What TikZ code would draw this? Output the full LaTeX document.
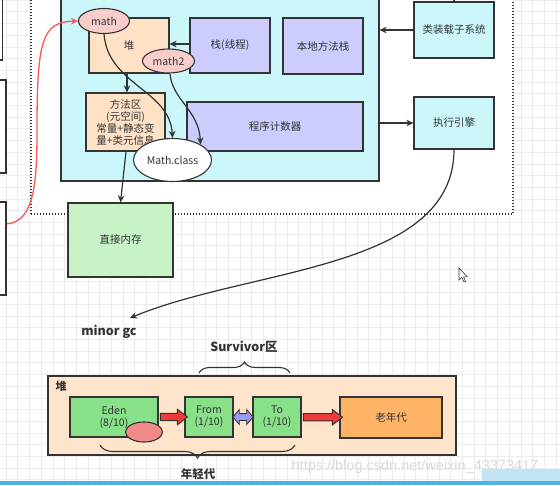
\documentclass[tikz,border=0pt]{standalone}
\usepackage{fontspec}
\setmainfont{Noto Sans CJK SC}
\newfontfamily\wmfont{Liberation Sans}
\usetikzlibrary{shapes.geometric,shapes.arrows,decorations.pathreplacing,arrows.meta,calc}
\definecolor{linec}{HTML}{333333}
\definecolor{txt}{HTML}{333333}
\definecolor{gridc}{HTML}{EBEBEB}
\definecolor{cyanfill}{HTML}{CCF7FA}
\definecolor{peach}{HTML}{FFE2C6}
\definecolor{lav}{HTML}{CCCCFF}
\definecolor{pinkf}{HTML}{F8CDCC}
\definecolor{lgreen}{HTML}{C6F2C6}
\definecolor{mgreen}{HTML}{88E088}
\definecolor{orangef}{HTML}{FFB366}
\definecolor{heapf}{HTML}{FFE4CC}
\definecolor{redell}{HTML}{F28A8A}
\definecolor{redarr}{HTML}{F03A3A}
\definecolor{bluearr}{HTML}{9A9AF5}
\definecolor{redline}{HTML}{FF5555}
\definecolor{barblue}{HTML}{4FB3E0}
\tikzset{
  box/.style={draw=linec, line width=1.2pt, inner sep=0pt, align=center, text=txt},
  ell/.style={ellipse, draw=linec, line width=1.1pt, inner sep=0pt, text=txt},
  conn/.style={draw=linec, line width=1.2pt, -{Stealth[length=7pt,width=6.5pt]}},
  fatred/.style={single arrow, draw=linec, line width=1pt, fill=redarr, inner sep=3.2pt,
     single arrow head extend=4pt, single arrow tip angle=75, minimum width=15pt},
  fatblue/.style={double arrow, draw=linec, line width=0.8pt, fill=bluearr, inner sep=3pt,
     double arrow head extend=4pt, double arrow tip angle=100, minimum width=14pt},
}
\begin{document}
\begin{tikzpicture}[x=1pt,y=-1pt,font=\fontsize{10.5}{12}\selectfont]
\useasboundingbox (0,0) rectangle (560,485);
\fill[white] (0,0) rectangle (560,485);
\begin{scope}
\clip (0,0) rectangle (560,485);
% grid
\foreach \i in {0,...,47} \draw[gridc, line width=0.6pt] (6+\i*11.7,0) -- (6+\i*11.7,485);
\foreach \i in {0,...,41} \draw[gridc, line width=0.6pt] (0,\i*11.7) -- (560,\i*11.7);
% left partial boxes
\node[box, fill=white, minimum width=12.5pt, minimum height=70pt] (lb1) at (-3.75,25) {};
\node[box, fill=white, minimum width=16pt, minimum height=93pt] (lb2) at (-2,126.5) {};
\node[box, fill=white, minimum width=16pt, minimum height=93pt] (lb3) at (-2,248.5) {};
% dotted container
\node[draw=linec, fill=white, line width=1.4pt, dash pattern=on 1.4pt off 1.6pt, inner sep=0pt,
      minimum width=482pt, minimum height=234pt] (cont) at (272,97) {};
% JVM runtime area
\node[box, fill=cyanfill, minimum width=318pt, minimum height=201pt] (jvm) at (220,80.5) {};
% inner boxes
\node[box, fill=peach, minimum width=80pt, minimum height=55pt] (heap) at (129,45.5) {堆};
\node[box, fill=lav, minimum width=80pt, minimum height=55pt] (stack) at (230,45.5) {栈(线程)};
\node[box, fill=lav, minimum width=80pt, minimum height=56pt] (native) at (323,46) {本地方法栈};
\node[box, fill=peach, minimum width=79pt, minimum height=58pt] (method) at (125.5,122)
   {方法区\\(元空间)\\常量+静态变\\量+类元信息};
\node[box, fill=lav, minimum width=176pt, minimum height=49pt] (pc) at (275,126.5) {程序计数器};
% right boxes
\node[box, fill=cyanfill, minimum width=80pt, minimum height=56pt] (loader) at (454,30) {类装载子系统};
\node[box, fill=cyanfill, minimum width=80pt, minimum height=52pt] (engine) at (454,123) {执行引擎};
% direct memory
\node[box, fill=lgreen, minimum width=105pt, minimum height=74pt] (direct) at (120.5,240) {直接内存};
% ellipses
\node[ell, fill=pinkf, minimum width=51pt, minimum height=25pt] (math) at (104,21) {math};
\node[ell, fill=pinkf, minimum width=52pt, minimum height=24pt] (math2) at (168.5,61) {math2};
\node[ell, fill=white, minimum width=78pt, minimum height=43pt] (mclass) at (172.5,160) {Math.class};
% connectors
\draw[draw=linec, line width=1.2pt] (loader.north) -- ++(0,-12);
\draw[conn] (stack.west |- 0,44) -- (heap.east |- 0,44);
\draw[conn] (loader.west) -- (loader.west -| jvm.east);
\draw[conn] (engine.west -| jvm.east) -- (engine.west);
\draw[conn] ([xshift=-2pt]heap.south) -- ([xshift=-2pt]heap.south |- method.north);
\draw[conn] ([xshift=0.5pt]method.south) -- (direct.north);
\draw[conn] (math.south) .. controls (108,85) and (170,90) .. (mclass.north);
\draw[conn] ([xshift=1.5pt]math2.south) .. controls (172,100) and (199,110) .. (mclass.north east);
\draw[draw=redline, line width=1.3pt] (lb3.east |- 0,224) .. controls (35,222) and (37,180) .. (37,130);
\draw[draw=redline, line width=1.3pt, -{Stealth[length=7pt,width=6.5pt]}] (37,130) .. controls (37,40) and (42,22) .. (math.west);
% minor gc
\node[font=\fontsize{12.5}{14}\selectfont\bfseries, text=txt] (minor) at (109,332) {minor gc};
\coordinate (gcend) at (130,318);
\draw[conn] (engine.south) .. controls (454,270) and (250,268) .. (gcend);
% heap (bottom)
\node[font=\fontsize{12.5}{14}\selectfont\bfseries, text=txt] (surv) at (244,347) {Survivor区};
\node[box, fill=heapf, minimum width=408pt, minimum height=79pt] (heap2) at (252,415.5) {};
\node[font=\fontsize{11}{13}\selectfont\bfseries, text=txt, anchor=north west] (heaplbl) at (52,378) {堆};
\node[box, fill=mgreen, minimum width=88pt, minimum height=40pt] (eden) at (114,417) {Eden\\(8/10)};
\node[box, fill=mgreen, minimum width=48pt, minimum height=40pt] (from) at (209,417) {From\\(1/10)};
\node[box, fill=mgreen, minimum width=48pt, minimum height=40pt] (to) at (277,417) {To\\(1/10)};
\node[box, fill=orangef, minimum width=102pt, minimum height=41pt] (old) at (391,417.5) {老年代};
\node[ell, fill=redell, minimum width=37pt, minimum height=20pt] (obj) at (144,432) {};
\node[fatred, minimum height=27pt] (a1) at ($(eden.east)!0.5!(from.west)$) {};
\node[fatblue, minimum height=20pt] (a2) at ($(from.east)!0.5!(to.west)$) {};
\node[fatred, minimum height=39pt] (a3) at ($(to.east)!0.5!(old.west)$) {};
% braces
\coordinate (sb1) at (199,373); \coordinate (sb2) at (290,373);
\draw[draw=linec, line width=1.1pt, decorate, decoration={brace, amplitude=11pt}] (sb1) -- (sb2);
\coordinate (yb1) at (295,445); \coordinate (yb2) at (100,445);
\draw[draw=linec, line width=1.1pt, decorate, decoration={brace, amplitude=13pt}] (yb1) -- (yb2);
\node[font=\fontsize{11.5}{13}\selectfont\bfseries, text=txt] (young) at (198,474) {年轻代};
% cursor
\draw[fill=white, draw=linec, line width=0.6pt] (459,268) -- (459,280) -- (461.8,277.3) -- (464,282) -- (465.6,281.3) -- (463.5,276.8) -- (467.2,276.8) -- cycle;
% watermark
\node[font=\wmfont\fontsize{14.5}{16}\selectfont, text=black!15] (wm) at (415,467) {https://blog.csdn.net/weixin\_43373417};
% bottom screen bar
\fill[barblue!35] (482,469) rectangle (560,481);
\fill[barblue] (0,481) rectangle (560,485);
\end{scope}
\end{tikzpicture}
\end{document}
